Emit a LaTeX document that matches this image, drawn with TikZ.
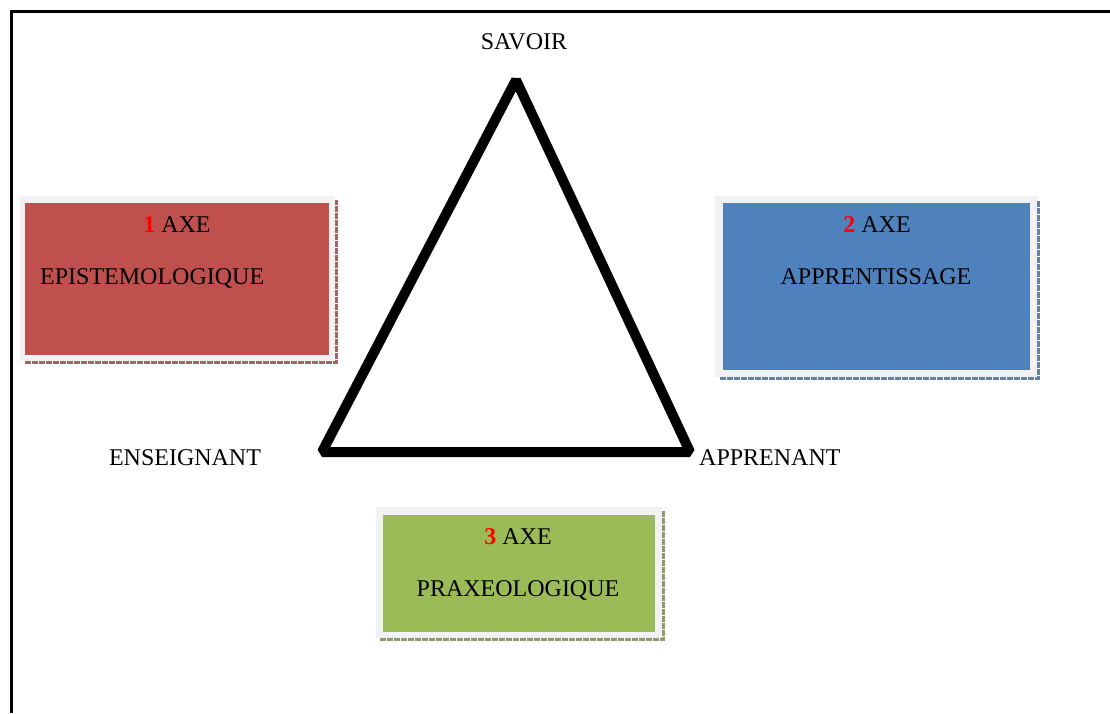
\documentclass[tikz,border=0pt]{standalone}
\usepackage{fontspec}
\setmainfont{Liberation Serif}
\definecolor{redbox}{HTML}{C0504D}
\definecolor{bluebox}{HTML}{4F81BD}
\definecolor{greenbox}{HTML}{9BBB59}
\definecolor{rim}{HTML}{F2F2F2}
\begin{document}
\begin{tikzpicture}[x=1pt,y=-1pt,
  lbl/.style={font=\fontsize{24}{26}\selectfont, inner sep=0pt, text=black},
  shade/.style={line width=3pt, dash pattern=on 6pt off 1pt}
]
\useasboundingbox (0,0) rectangle (1110,713);
% frame (top and left only)
\draw[line width=3pt] (11,713) -- (11,11) -- (1110,11);

% triangle
\coordinate (S) at (516,80);
\coordinate (E) at (322,452);
\coordinate (A) at (690,452);
\draw[line width=10pt, line join=bevel] (S) -- (E) -- (A) -- cycle;

% vertex labels
\node[lbl] (savoir) at (524,42) {SAVOIR};
\node[lbl] (ens) at (185,458) {ENSEIGNANT};
\node[lbl, anchor=west] (appr) at (699,458) {APPRENANT};

% box 1
\draw[shade, draw=redbox!55!gray] (25,362.5) -- (336.5,362.5) -- (336.5,200);
\fill[rim] (20,196) rectangle (335,361);
\fill[redbox] (25,203) rectangle (329,355);
\node[lbl] (b1t) at (177,225) {\textcolor{red}{\textbf{1}} AXE};
\node[lbl, anchor=west] (b1b) at (40,278) {EPISTEMOLOGIQUE};

% box 2
\draw[shade, draw=bluebox!55!gray] (720,378.5) -- (1038.5,378.5) -- (1038.5,200);
\fill[rim] (715,196) rectangle (1037,377);
\fill[bluebox] (723,203) rectangle (1030,370);
\node[lbl] (b2t) at (877,225) {\textcolor{red}{\textbf{2}} AXE};
\node[lbl] (b2b) at (876,277) {APPRENTISSAGE};

% box 3
\draw[shade, draw=greenbox!45!gray] (380,639.5) -- (663.5,639.5) -- (663.5,511);
\fill[rim] (376,507) rectangle (662,638);
\fill[greenbox] (383,515) rectangle (655,632);
\node[lbl] (b3t) at (518,537) {\textcolor{red}{\textbf{3}} AXE};
\node[lbl] (b3b) at (518,590) {PRAXEOLOGIQUE};
\end{tikzpicture}
\end{document}
